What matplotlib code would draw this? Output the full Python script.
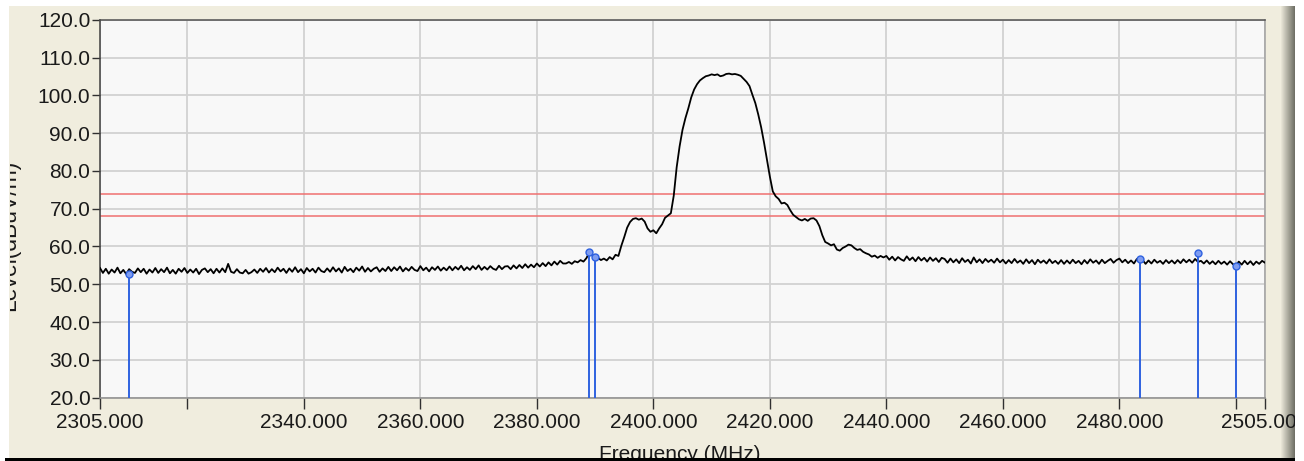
import matplotlib
matplotlib.use("Agg")
import matplotlib.pyplot as plt
from matplotlib.patches import Rectangle
from matplotlib.transforms import Bbox, TransformedBbox
import numpy as np

# ---------------- data ----------------
freq_mhz = [
    2305.0, 2305.5, 2306.0, 2306.5, 2307.0, 2307.5, 2308.0, 2308.5, 2309.0, 2309.5,
    2310.0, 2310.5, 2311.0, 2311.5, 2312.0, 2312.5, 2313.0, 2313.5, 2314.0, 2314.5,
    2315.0, 2315.5, 2316.0, 2316.5, 2317.0, 2317.5, 2318.0, 2318.5, 2319.0, 2319.5,
    2320.0, 2320.5, 2321.0, 2321.5, 2322.0, 2322.5, 2323.0, 2323.5, 2324.0, 2324.5,
    2325.0, 2325.5, 2326.0, 2326.5, 2327.0, 2327.5, 2328.0, 2328.5, 2329.0, 2329.5,
    2330.0, 2330.5, 2331.0, 2331.5, 2332.0, 2332.5, 2333.0, 2333.5, 2334.0, 2334.5,
    2335.0, 2335.5, 2336.0, 2336.5, 2337.0, 2337.5, 2338.0, 2338.5, 2339.0, 2339.5,
    2340.0, 2340.5, 2341.0, 2341.5, 2342.0, 2342.5, 2343.0, 2343.5, 2344.0, 2344.5,
    2345.0, 2345.5, 2346.0, 2346.5, 2347.0, 2347.5, 2348.0, 2348.5, 2349.0, 2349.5,
    2350.0, 2350.5, 2351.0, 2351.5, 2352.0, 2352.5, 2353.0, 2353.5, 2354.0, 2354.5,
    2355.0, 2355.5, 2356.0, 2356.5, 2357.0, 2357.5, 2358.0, 2358.5, 2359.0, 2359.5,
    2360.0, 2360.5, 2361.0, 2361.5, 2362.0, 2362.5, 2363.0, 2363.5, 2364.0, 2364.5,
    2365.0, 2365.5, 2366.0, 2366.5, 2367.0, 2367.5, 2368.0, 2368.5, 2369.0, 2369.5,
    2370.0, 2370.5, 2371.0, 2371.5, 2372.0, 2372.5, 2373.0, 2373.5, 2374.0, 2374.5,
    2375.0, 2375.5, 2376.0, 2376.5, 2377.0, 2377.5, 2378.0, 2378.5, 2379.0, 2379.5,
    2380.0, 2380.5, 2381.0, 2381.5, 2382.0, 2382.5, 2383.0, 2383.5, 2384.0, 2384.5,
    2385.0, 2385.5, 2386.0, 2386.5, 2387.0, 2387.5, 2388.0, 2388.5, 2389.0, 2389.5,
    2390.0, 2390.5, 2391.0, 2391.5, 2392.0, 2392.5, 2393.0, 2393.5, 2394.0, 2394.5,
    2395.0, 2395.5, 2396.0, 2396.5, 2397.0, 2397.5, 2398.0, 2398.5, 2399.0, 2399.5,
    2400.0, 2400.5, 2401.0, 2401.5, 2402.0, 2402.5, 2403.0, 2403.5, 2404.0, 2404.5,
    2405.0, 2405.5, 2406.0, 2406.5, 2407.0, 2407.5, 2408.0, 2408.5, 2409.0, 2409.5,
    2410.0, 2410.5, 2411.0, 2411.5, 2412.0, 2412.5, 2413.0, 2413.5, 2414.0, 2414.5,
    2415.0, 2415.5, 2416.0, 2416.5, 2417.0, 2417.5, 2418.0, 2418.5, 2419.0, 2419.5,
    2420.0, 2420.5, 2421.0, 2421.5, 2422.0, 2422.5, 2423.0, 2423.5, 2424.0, 2424.5,
    2425.0, 2425.5, 2426.0, 2426.5, 2427.0, 2427.5, 2428.0, 2428.5, 2429.0, 2429.5,
    2430.0, 2430.5, 2431.0, 2431.5, 2432.0, 2432.5, 2433.0, 2433.5, 2434.0, 2434.5,
    2435.0, 2435.5, 2436.0, 2436.5, 2437.0, 2437.5, 2438.0, 2438.5, 2439.0, 2439.5,
    2440.0, 2440.5, 2441.0, 2441.5, 2442.0, 2442.5, 2443.0, 2443.5, 2444.0, 2444.5,
    2445.0, 2445.5, 2446.0, 2446.5, 2447.0, 2447.5, 2448.0, 2448.5, 2449.0, 2449.5,
    2450.0, 2450.5, 2451.0, 2451.5, 2452.0, 2452.5, 2453.0, 2453.5, 2454.0, 2454.5,
    2455.0, 2455.5, 2456.0, 2456.5, 2457.0, 2457.5, 2458.0, 2458.5, 2459.0, 2459.5,
    2460.0, 2460.5, 2461.0, 2461.5, 2462.0, 2462.5, 2463.0, 2463.5, 2464.0, 2464.5,
    2465.0, 2465.5, 2466.0, 2466.5, 2467.0, 2467.5, 2468.0, 2468.5, 2469.0, 2469.5,
    2470.0, 2470.5, 2471.0, 2471.5, 2472.0, 2472.5, 2473.0, 2473.5, 2474.0, 2474.5,
    2475.0, 2475.5, 2476.0, 2476.5, 2477.0, 2477.5, 2478.0, 2478.5, 2479.0, 2479.5,
    2480.0, 2480.5, 2481.0, 2481.5, 2482.0, 2482.5, 2483.0, 2483.5, 2484.0, 2484.5,
    2485.0, 2485.5, 2486.0, 2486.5, 2487.0, 2487.5, 2488.0, 2488.5, 2489.0, 2489.5,
    2490.0, 2490.5, 2491.0, 2491.5, 2492.0, 2492.5, 2493.0, 2493.5, 2494.0, 2494.5,
    2495.0, 2495.5, 2496.0, 2496.5, 2497.0, 2497.5, 2498.0, 2498.5, 2499.0, 2499.5,
    2500.0, 2500.5, 2501.0, 2501.5, 2502.0, 2502.5, 2503.0, 2503.5, 2504.0, 2504.5,
    2505.0,
]

level_dbuv = [
    54.3, 53.0, 54.1, 52.8, 53.9, 53.1, 54.4, 52.9, 53.8, 52.7,
    54.0, 53.3, 53.0, 54.2, 53.2, 54.1, 52.8, 53.9, 53.1, 54.3,
    53.0, 54.0, 53.2, 54.4, 52.9, 53.8, 52.8, 54.1, 53.3, 54.3,
    53.0, 53.9, 53.1, 54.1, 52.7, 53.8, 54.2, 53.2, 54.0, 52.9,
    54.1, 53.1, 54.2, 53.2, 55.4, 53.3, 53.0, 54.0, 53.1, 52.9,
    53.8, 52.8, 53.2, 53.9, 53.0, 54.1, 53.3, 54.3, 53.1, 54.0,
    53.2, 54.4, 53.4, 54.1, 53.0, 54.2, 53.3, 54.5, 53.2, 54.0,
    52.9, 54.3, 53.4, 54.1, 53.1, 54.4, 53.5, 53.2, 54.2, 53.3,
    54.5, 53.4, 54.2, 53.1, 54.6, 53.5, 54.1, 53.2, 54.4, 53.6,
    54.7, 53.3, 54.3, 53.4, 54.1, 54.5, 53.3, 54.2, 53.5, 54.6,
    53.5, 54.5, 53.7, 54.7, 53.4, 54.3, 53.6, 54.6, 53.8, 53.5,
    54.8, 53.7, 54.4, 53.4, 54.5, 53.8, 54.7, 53.6, 54.4, 53.7,
    54.7, 53.7, 54.6, 53.9, 54.9, 53.7, 54.5, 53.8, 54.8, 54.0,
    55.0, 53.8, 54.6, 53.9, 54.8, 54.1, 53.8, 54.9, 54.0, 54.7,
    54.8, 54.0, 55.0, 54.2, 55.1, 54.3, 55.3, 54.4, 55.2, 54.5,
    55.5, 54.7, 55.6, 54.8, 55.8, 55.0, 56.0, 55.2, 56.2, 55.5,
    55.5, 55.9, 55.4, 56.1, 55.8, 56.4, 56.0, 56.9, 58.4, 57.6,
    57.8, 57.0, 56.4, 56.8, 56.3, 57.2, 56.6, 57.8, 57.5, 60.2,
    62.5, 65.0, 66.5, 67.3, 67.5, 67.1, 67.4, 66.6, 64.8, 63.9,
    64.3, 63.5, 64.8, 65.9, 67.6, 68.2, 68.8, 73.5, 81.0, 86.5,
    90.9, 94.0, 96.6, 99.5, 101.6, 103.0, 104.0, 104.6, 105.1, 105.3,
    105.6, 105.4, 105.6, 105.1, 105.3, 105.7, 105.8, 105.6, 105.7, 105.5,
    105.2, 104.4, 103.6, 102.5, 100.2, 98.0, 95.0, 91.6, 87.5, 83.0,
    78.5, 74.6, 73.3, 72.6, 71.4, 71.6, 71.0, 69.6, 68.4, 67.8,
    67.2, 66.9, 67.3, 66.8, 67.4, 67.5, 66.9, 65.4, 63.0, 61.2,
    60.8, 60.3, 60.6, 59.2, 58.9, 59.6, 60.0, 60.5, 60.3, 59.6,
    59.1, 59.3, 58.6, 58.2, 57.9, 57.3, 57.6, 57.0, 57.5, 57.1,
    57.5, 56.5, 57.3, 56.3, 57.2, 56.6, 56.2, 57.4, 56.4, 57.1,
    56.1, 57.2, 56.3, 57.0, 56.0, 57.1, 56.2, 56.9, 55.9, 57.0,
    56.7, 55.7, 56.8, 55.8, 56.6, 55.6, 56.9, 55.9, 56.5, 55.5,
    57.1, 55.8, 56.6, 55.6, 56.7, 55.9, 56.5, 55.7, 56.8, 55.8,
    56.5, 55.5, 56.4, 55.6, 56.7, 55.7, 56.3, 55.4, 56.6, 55.6,
    56.4, 55.3, 56.5, 55.7, 56.3, 55.5, 56.6, 55.6, 56.2, 55.4,
    56.4, 55.4, 56.3, 55.5, 56.5, 55.6, 56.2, 55.3, 56.4, 55.5,
    56.6, 55.7, 56.3, 55.4, 56.5, 55.6, 56.2, 56.7, 55.7, 56.4,
    56.8, 55.8, 56.5, 55.6, 56.3, 55.5, 56.7, 55.7, 56.4, 55.4,
    56.3, 55.5, 56.5, 55.7, 56.2, 55.4, 56.4, 55.6, 56.3, 55.5,
    56.4, 55.6, 56.6, 55.8, 56.5, 55.7, 56.7, 55.9, 56.2, 55.5,
    56.3, 55.4, 56.1, 55.3, 56.2, 55.4, 56.0, 55.2, 56.1, 55.3,
    55.0, 56.0, 55.2, 56.2, 55.3, 56.1, 55.1, 56.0, 55.4, 56.2,
    55.7,
]

limit_levels = [74.0, 68.0]

marker_freq = [2310.0, 2389.0, 2390.0, 2483.5, 2493.5, 2500.0]
marker_level = [52.8, 58.6, 57.2, 56.7, 58.3, 54.9]

x_ticks = [2305, 2320, 2340, 2360, 2380, 2400, 2420, 2440, 2460, 2480, 2500, 2505]
x_tick_labels = ["2305.000", "", "2340.000", "2360.000", "2380.000", "2400.000",
                 "2420.000", "2440.000", "2460.000", "2480.000", "", "2505.000"]
y_ticks = [20, 30, 40, 50, 60, 70, 80, 90, 100, 110, 120]
y_tick_labels = ["20.0", "30.0", "40.0", "50.0", "60.0", "70.0", "80.0",
                 "90.0", "100.0", "110.0", "120.0"]

assert len(freq_mhz) == len(level_dbuv)

# ---------------- figure ----------------
W, H = 1304, 461
plt.rcParams["font.family"] = ["Liberation Sans", "DejaVu Sans"]
fig = plt.figure(figsize=(W / 100, H / 100), dpi=100, facecolor="white")

PANEL = "#F0EDDE"

# beige panel
fig.patches.append(Rectangle((9 / W, 3 / H), (1280 - 9) / W, (455 - 3) / H,
                             transform=fig.transFigure, facecolor=PANEL,
                             edgecolor="none", zorder=-5))
# right shadow gradient
c0 = np.array([0xF0, 0xED, 0xDE]) / 255.0
c1 = np.array([0x70, 0x70, 0x66]) / 255.0
for i in range(15):
    t = i / 14.0
    col = c0 * (1 - t) + c1 * t
    fig.patches.append(Rectangle(((1280 + i) / W, 3 / H), 1 / W, (455 - 3) / H,
                                 transform=fig.transFigure, facecolor=col,
                                 edgecolor="none", zorder=-4))
# white margin to the right of the panel (covers overflowing tick label)
fig.patches.append(Rectangle((1295 / W, 0), (W - 1295) / W, 1,
                             transform=fig.transFigure, facecolor="white",
                             edgecolor="none", zorder=8))
# black bottom bar
fig.patches.append(Rectangle((5 / W, 0), (1295 - 5) / W, 2.6 / H,
                             transform=fig.transFigure, facecolor="black",
                             edgecolor="none", zorder=10))

ax = fig.add_axes([100 / W, 1 - 397.5 / H, 1165 / W, 377.5 / H])
ax.set_facecolor("#F8F8F8")

ax.set_xlim(2305, 2505)
ax.set_ylim(20, 120)

ax.set_xticks(x_ticks)
ax.set_xticklabels(x_tick_labels)
ax.set_yticks(y_ticks)
ax.set_yticklabels(y_tick_labels)

ax.grid(True, color="#D2D2D2", linewidth=1.3, zorder=0)
ax.set_axisbelow(True)

ax.tick_params(axis="y", direction="out", length=6, width=1.0, color="#303030",
               labelsize=15, labelcolor="#1A1A1A", pad=1)
ax.tick_params(axis="x", direction="out", length=8, width=1.0, color="#303030",
               labelsize=15, labelcolor="#1A1A1A", pad=3)

ax.spines["left"].set_color("#404040")
ax.spines["bottom"].set_color("#8C8C8C")
ax.spines["top"].set_color("#505050")
ax.spines["right"].set_color("#A0A0A0")
for s in ax.spines.values():
    s.set_linewidth(1.1)

# limit lines
for lv in limit_levels:
    ax.axhline(lv, color="#F07070", linewidth=1.1, zorder=2)

# trace
ax.plot(freq_mhz, level_dbuv, color="black", linewidth=1.3, zorder=3)

# markers
ax.vlines(marker_freq, 20, marker_level, color="#2F62E0", linewidth=1.4, zorder=4)
ax.plot(marker_freq, marker_level, linestyle="none", marker="o", markersize=5,
        markerfacecolor="#7E9CF0", markeredgecolor="#2F62E0", markeredgewidth=1.0,
        zorder=5)

# axis titles (clipped like the reference)
ylab = fig.text(20 / W, 226 / H, "Level(dBuV/m)", rotation=90, ha="right",
                va="center", fontsize=16.5, color="#1A1A1A")
ylab.set_clip_box(TransformedBbox(Bbox([[10 / W, 0], [1, 1]]), fig.transFigure))
ylab.set_clip_on(True)

fig.text(680 / W, 1 - 445 / H, "Frequency (MHz)", ha="center", va="top",
         fontsize=15, color="#1A1A1A")

fig.savefig("out.png", dpi=100, facecolor="white")
